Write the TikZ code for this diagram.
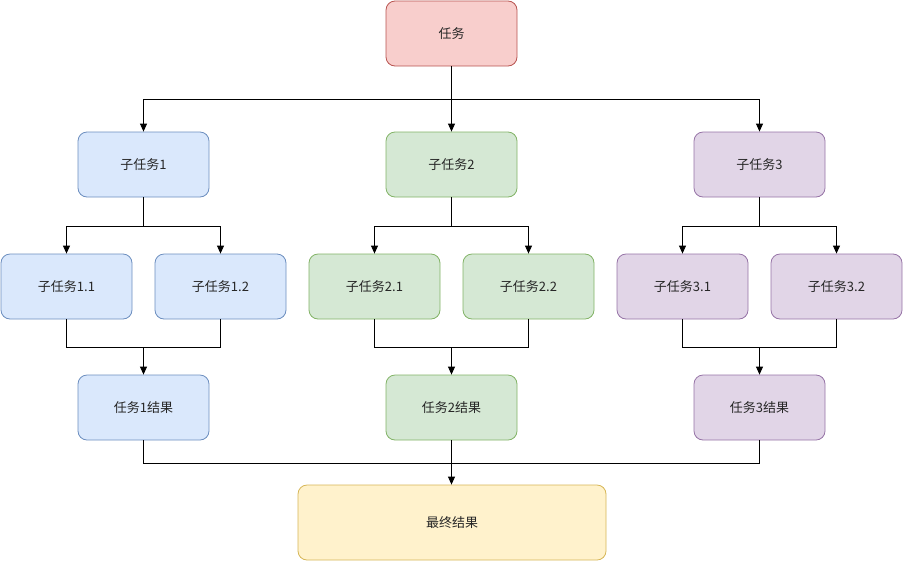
\documentclass[tikz,border=0pt]{standalone}
\usepackage{fontspec}
\setmainfont{Noto Sans CJK SC}
\usetikzlibrary{arrows.meta}
\definecolor{redfill}{HTML}{F8CECC}\definecolor{redline}{HTML}{B85450}
\definecolor{bluefill}{HTML}{DAE8FC}\definecolor{blueline}{HTML}{6C8EBF}
\definecolor{greenfill}{HTML}{D5E8D4}\definecolor{greenline}{HTML}{82B366}
\definecolor{purpfill}{HTML}{E1D5E7}\definecolor{purpline}{HTML}{9673A6}
\definecolor{yelfill}{HTML}{FFF2CC}\definecolor{yelline}{HTML}{D6B656}
\tikzset{
  box/.style={draw, line width=0.8pt, rounded corners=9pt, minimum width=131pt, minimum height=65pt, inner sep=0pt, font=\fontsize{13}{15}\selectfont, text=black!85},
  redbox/.style={box, fill=redfill, draw=redline},
  bluebox/.style={box, fill=bluefill, draw=blueline},
  greenbox/.style={box, fill=greenfill, draw=greenline},
  purpbox/.style={box, fill=purpfill, draw=purpline},
  yelbox/.style={box, fill=yelfill, draw=yelline, minimum width=308pt, minimum height=75pt},
  line/.style={draw=black, line width=0.8pt},
  arr/.style={line, -{Triangle[length=8pt,width=7pt]}}
}
\begin{document}
\begin{tikzpicture}[x=1pt,y=-1pt]
\useasboundingbox (0,0) rectangle (904,563);
\node[redbox] (t) at (451.5,33.5) {任务};
\node[bluebox] (s1) at (143.5,164.5) {子任务1};
\node[greenbox] (s2) at (451.5,164.5) {子任务2};
\node[purpbox] (s3) at (759.5,164.5) {子任务3};
\node[bluebox] (s11) at (66.5,286.5) {子任务1.1};
\node[bluebox] (s12) at (220.5,286.5) {子任务1.2};
\node[greenbox] (s21) at (374.5,286.5) {子任务2.1};
\node[greenbox] (s22) at (528.5,286.5) {子任务2.2};
\node[purpbox] (s31) at (682.5,286.5) {子任务3.1};
\node[purpbox] (s32) at (836.5,286.5) {子任务3.2};
\node[bluebox] (r1) at (143.5,407.5) {任务1结果};
\node[greenbox] (r2) at (451.5,407.5) {任务2结果};
\node[purpbox] (r3) at (759.5,407.5) {任务3结果};
\node[yelbox] (f) at (452,522.5) {最终结果};
% level 1
\coordinate (j0) at (451.5,99);
\draw[line] (t.south) -- (j0);
\draw[arr] (j0) -| (s1.north);
\draw[arr] (j0) -| (s3.north);
\draw[arr] (j0) -- (s2.north);
% level 2
\coordinate (j1) at (143.5,226);
\coordinate (j2) at (451.5,226);
\coordinate (j3) at (759.5,226);
\draw[line] (s1.south) -- (j1);
\draw[line] (s2.south) -- (j2);
\draw[line] (s3.south) -- (j3);
\draw[arr] (j1) -| (s11.north);
\draw[arr] (j1) -| (s12.north);
\draw[arr] (j2) -| (s21.north);
\draw[arr] (j2) -| (s22.north);
\draw[arr] (j3) -| (s31.north);
\draw[arr] (j3) -| (s32.north);
% level 3
\coordinate (k1) at (143.5,347);
\coordinate (k2) at (451.5,347);
\coordinate (k3) at (759.5,347);
\draw[line] (s11.south) |- (k1);
\draw[line] (s12.south) |- (k1);
\draw[line] (s21.south) |- (k2);
\draw[line] (s22.south) |- (k2);
\draw[line] (s31.south) |- (k3);
\draw[line] (s32.south) |- (k3);
\draw[arr] (k1) -- (r1.north);
\draw[arr] (k2) -- (r2.north);
\draw[arr] (k3) -- (r3.north);
% level 4
\coordinate (m) at (451.5,463);
\draw[line] (r1.south) |- (m);
\draw[line] (r3.south) |- (m);
\draw[arr] (r2.south) -- (r2.south |- f.north);
\end{tikzpicture}
\end{document}
